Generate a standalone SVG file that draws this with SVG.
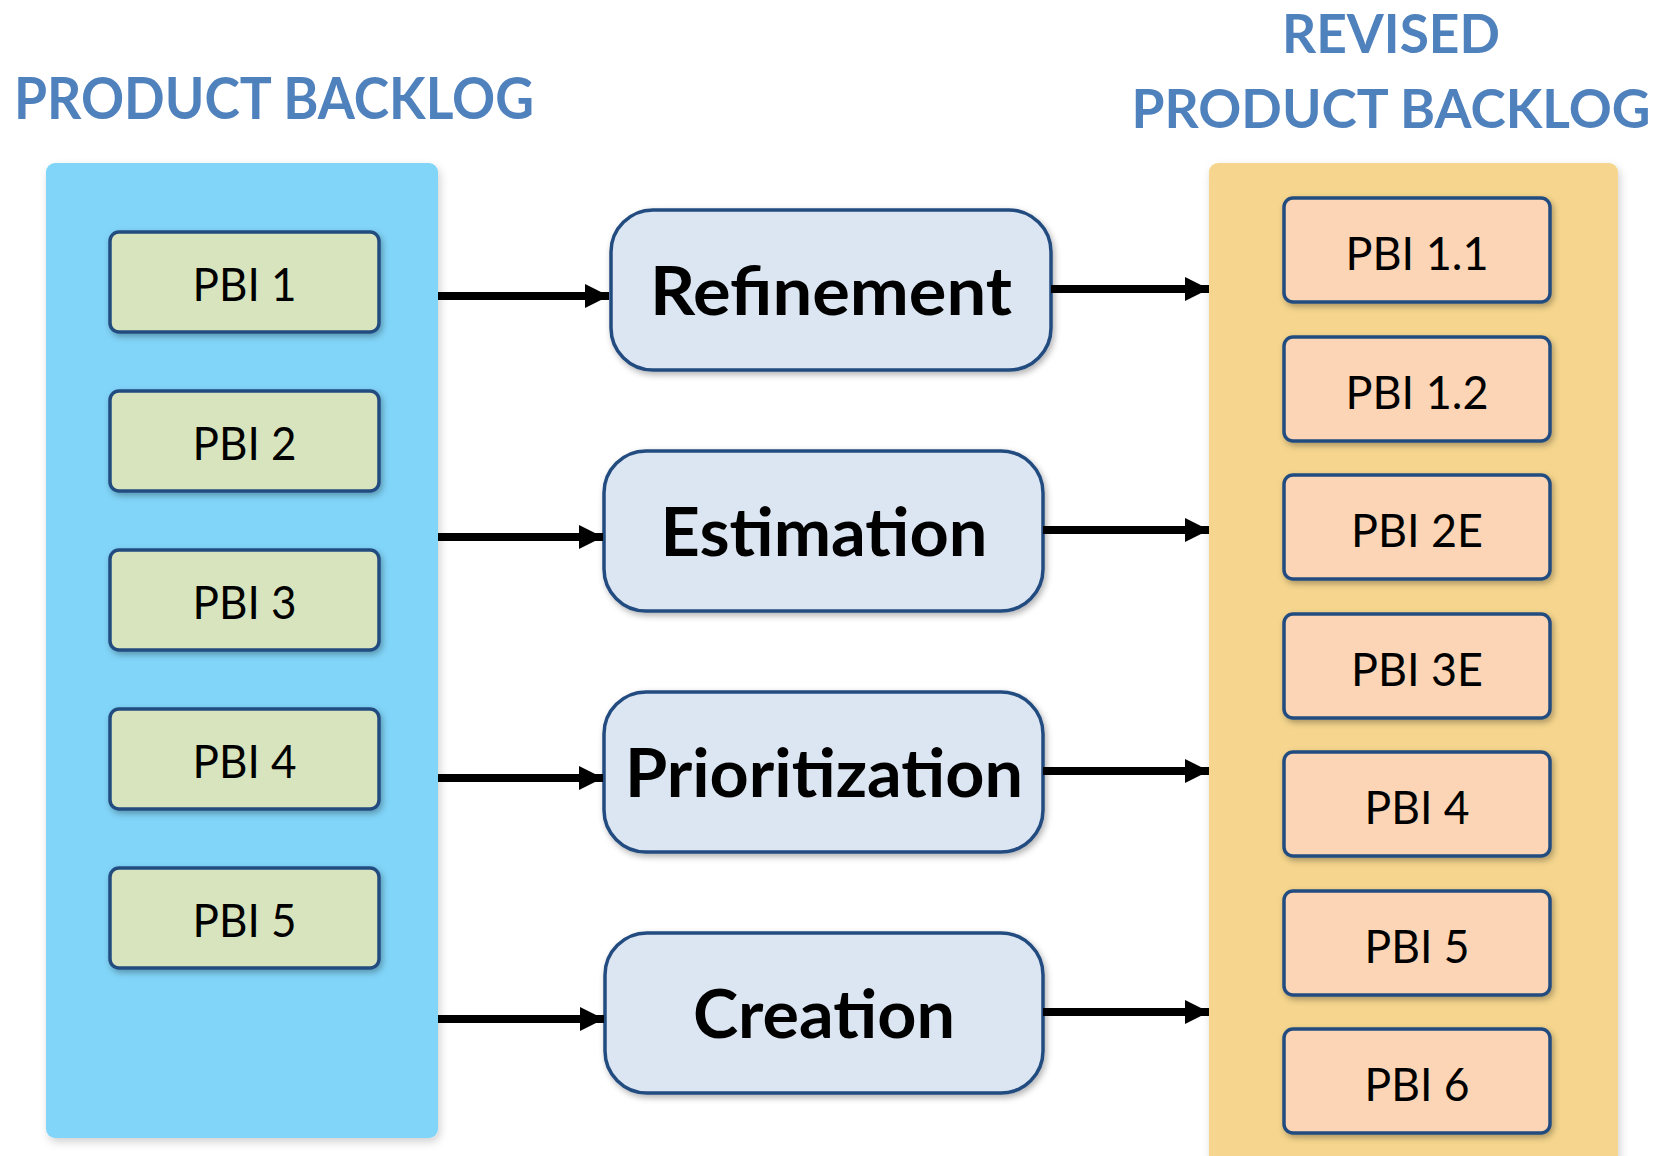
<svg xmlns="http://www.w3.org/2000/svg" width="1671" height="1156" viewBox="0 0 1671 1156">
<defs>
<style>
.title{font-family:Lato,"Open Sans","Liberation Sans",sans-serif;font-weight:bold;font-size:57px;fill:#4F81BD;}
.titleR{font-family:Lato,"Open Sans","Liberation Sans",sans-serif;font-weight:bold;font-size:53px;fill:#4F81BD;text-anchor:middle;}
.panelL{fill:#81D5F9;}
.panelR{fill:#F6D68E;}
.pbiL{fill:#D7E4BD;stroke:#234C80;stroke-width:3.5;}
.pbiR{fill:#FBD5B5;stroke:#234C80;stroke-width:3.5;}
.proc{fill:#DCE6F2;stroke:#234C80;stroke-width:3.5;}
.lbl{font-family:Lato,"Open Sans","Liberation Sans",sans-serif;font-size:47px;fill:#000;text-anchor:middle;}
.plbl{font-family:Lato,"Open Sans","Liberation Sans",sans-serif;font-weight:bold;font-size:66px;fill:#000;text-anchor:middle;}
.conn{stroke:#000;stroke-width:8;fill:none;marker-end:url(#arr);}
</style>
<marker id="arr" viewBox="0 0 24 24" markerWidth="24" markerHeight="24" markerUnits="userSpaceOnUse" refX="24" refY="12" orient="auto">
<path d="M0,0 L24,12 L0,24 Z" fill="#000"/>
</marker>
<filter id="sh" x="-10%" y="-10%" width="130%" height="130%">
<feDropShadow dx="2" dy="3" stdDeviation="3" flood-color="#000" flood-opacity="0.3"/>
</filter>
<filter id="shp" x="-5%" y="-5%" width="110%" height="110%">
<feDropShadow dx="2" dy="4" stdDeviation="4" flood-color="#000" flood-opacity="0.18"/>
</filter>
</defs>
<rect width="1671" height="1156" fill="#fff"/>

<g id="title-left">
<text class="title" x="14" y="119" textLength="520" lengthAdjust="spacingAndGlyphs">PRODUCT BACKLOG</text>
</g>
<g id="title-right">
<text class="titleR" x="1391" y="53" textLength="218" lengthAdjust="spacingAndGlyphs">REVISED</text>
<text class="titleR" x="1391" y="128" textLength="519" lengthAdjust="spacingAndGlyphs">PRODUCT BACKLOG</text>
</g>

<g id="product-backlog">
<rect class="panelL" x="46" y="163" width="392" height="975" rx="9" filter="url(#shp)"/>
</g>
<g id="revised-backlog">
<rect class="panelR" x="1209" y="163" width="409" height="1010" rx="9" filter="url(#shp)"/>
</g>

<g id="pbi-1"><rect class="pbiL" x="110" y="232" width="269" height="100" rx="9" filter="url(#sh)"/><text class="lbl" x="244.5" y="301" textLength="104" lengthAdjust="spacingAndGlyphs">PBI 1</text></g>
<g id="pbi-2"><rect class="pbiL" x="110" y="391" width="269" height="100" rx="9" filter="url(#sh)"/><text class="lbl" x="244.5" y="460" textLength="104" lengthAdjust="spacingAndGlyphs">PBI 2</text></g>
<g id="pbi-3"><rect class="pbiL" x="110" y="550" width="269" height="100" rx="9" filter="url(#sh)"/><text class="lbl" x="244.5" y="619" textLength="104" lengthAdjust="spacingAndGlyphs">PBI 3</text></g>
<g id="pbi-4"><rect class="pbiL" x="110" y="709" width="269" height="100" rx="9" filter="url(#sh)"/><text class="lbl" x="244.5" y="778" textLength="104" lengthAdjust="spacingAndGlyphs">PBI 4</text></g>
<g id="pbi-5"><rect class="pbiL" x="110" y="868" width="269" height="100" rx="9" filter="url(#sh)"/><text class="lbl" x="244.5" y="937" textLength="104" lengthAdjust="spacingAndGlyphs">PBI 5</text></g>

<g id="refinement"><rect class="proc" x="611" y="210" width="440" height="160" rx="42" filter="url(#sh)"/><text class="plbl" x="831" y="315" textLength="362" lengthAdjust="spacingAndGlyphs">Refinement</text></g>
<g id="estimation"><rect class="proc" x="604" y="451" width="439" height="160" rx="42" filter="url(#sh)"/><text class="plbl" x="824" y="556" textLength="327" lengthAdjust="spacingAndGlyphs">Estimation</text></g>
<g id="prioritization"><rect class="proc" x="604" y="692" width="439" height="160" rx="42" filter="url(#sh)"/><text class="plbl" x="824" y="797" textLength="398" lengthAdjust="spacingAndGlyphs">Prioritization</text></g>
<g id="creation"><rect class="proc" x="605" y="933" width="438" height="160" rx="42" filter="url(#sh)"/><text class="plbl" x="824" y="1038" textLength="262" lengthAdjust="spacingAndGlyphs">Creation</text></g>

<g id="pbi-1-1"><rect class="pbiR" x="1284" y="198" width="266" height="104" rx="9" filter="url(#sh)"/><text class="lbl" x="1417" y="270" textLength="143" lengthAdjust="spacingAndGlyphs">PBI 1.1</text></g>
<g id="pbi-1-2"><rect class="pbiR" x="1284" y="337" width="266" height="104" rx="9" filter="url(#sh)"/><text class="lbl" x="1417" y="409" textLength="143" lengthAdjust="spacingAndGlyphs">PBI 1.2</text></g>
<g id="pbi-2e"><rect class="pbiR" x="1284" y="475" width="266" height="104" rx="9" filter="url(#sh)"/><text class="lbl" x="1417" y="547" textLength="132" lengthAdjust="spacingAndGlyphs">PBI 2E</text></g>
<g id="pbi-3e"><rect class="pbiR" x="1284" y="614" width="266" height="104" rx="9" filter="url(#sh)"/><text class="lbl" x="1417" y="686" textLength="132" lengthAdjust="spacingAndGlyphs">PBI 3E</text></g>
<g id="pbi-4r"><rect class="pbiR" x="1284" y="752" width="266" height="104" rx="9" filter="url(#sh)"/><text class="lbl" x="1417" y="824" textLength="105" lengthAdjust="spacingAndGlyphs">PBI 4</text></g>
<g id="pbi-5r"><rect class="pbiR" x="1284" y="891" width="266" height="104" rx="9" filter="url(#sh)"/><text class="lbl" x="1417" y="963" textLength="105" lengthAdjust="spacingAndGlyphs">PBI 5</text></g>
<g id="pbi-6"><rect class="pbiR" x="1284" y="1029" width="266" height="104" rx="9" filter="url(#sh)"/><text class="lbl" x="1417" y="1101" textLength="105" lengthAdjust="spacingAndGlyphs">PBI 6</text></g>

<g id="connectors">
<line class="conn" x1="438" y1="296" x2="609" y2="296"/>
<line class="conn" x1="438" y1="537" x2="603" y2="537"/>
<line class="conn" x1="438" y1="778" x2="603" y2="778"/>
<line class="conn" x1="438" y1="1019" x2="604" y2="1019"/>
<line class="conn" x1="1051" y1="289" x2="1209" y2="289"/>
<line class="conn" x1="1043" y1="530" x2="1209" y2="530"/>
<line class="conn" x1="1043" y1="771" x2="1209" y2="771"/>
<line class="conn" x1="1043" y1="1012" x2="1209" y2="1012"/>
</g>
</svg>
